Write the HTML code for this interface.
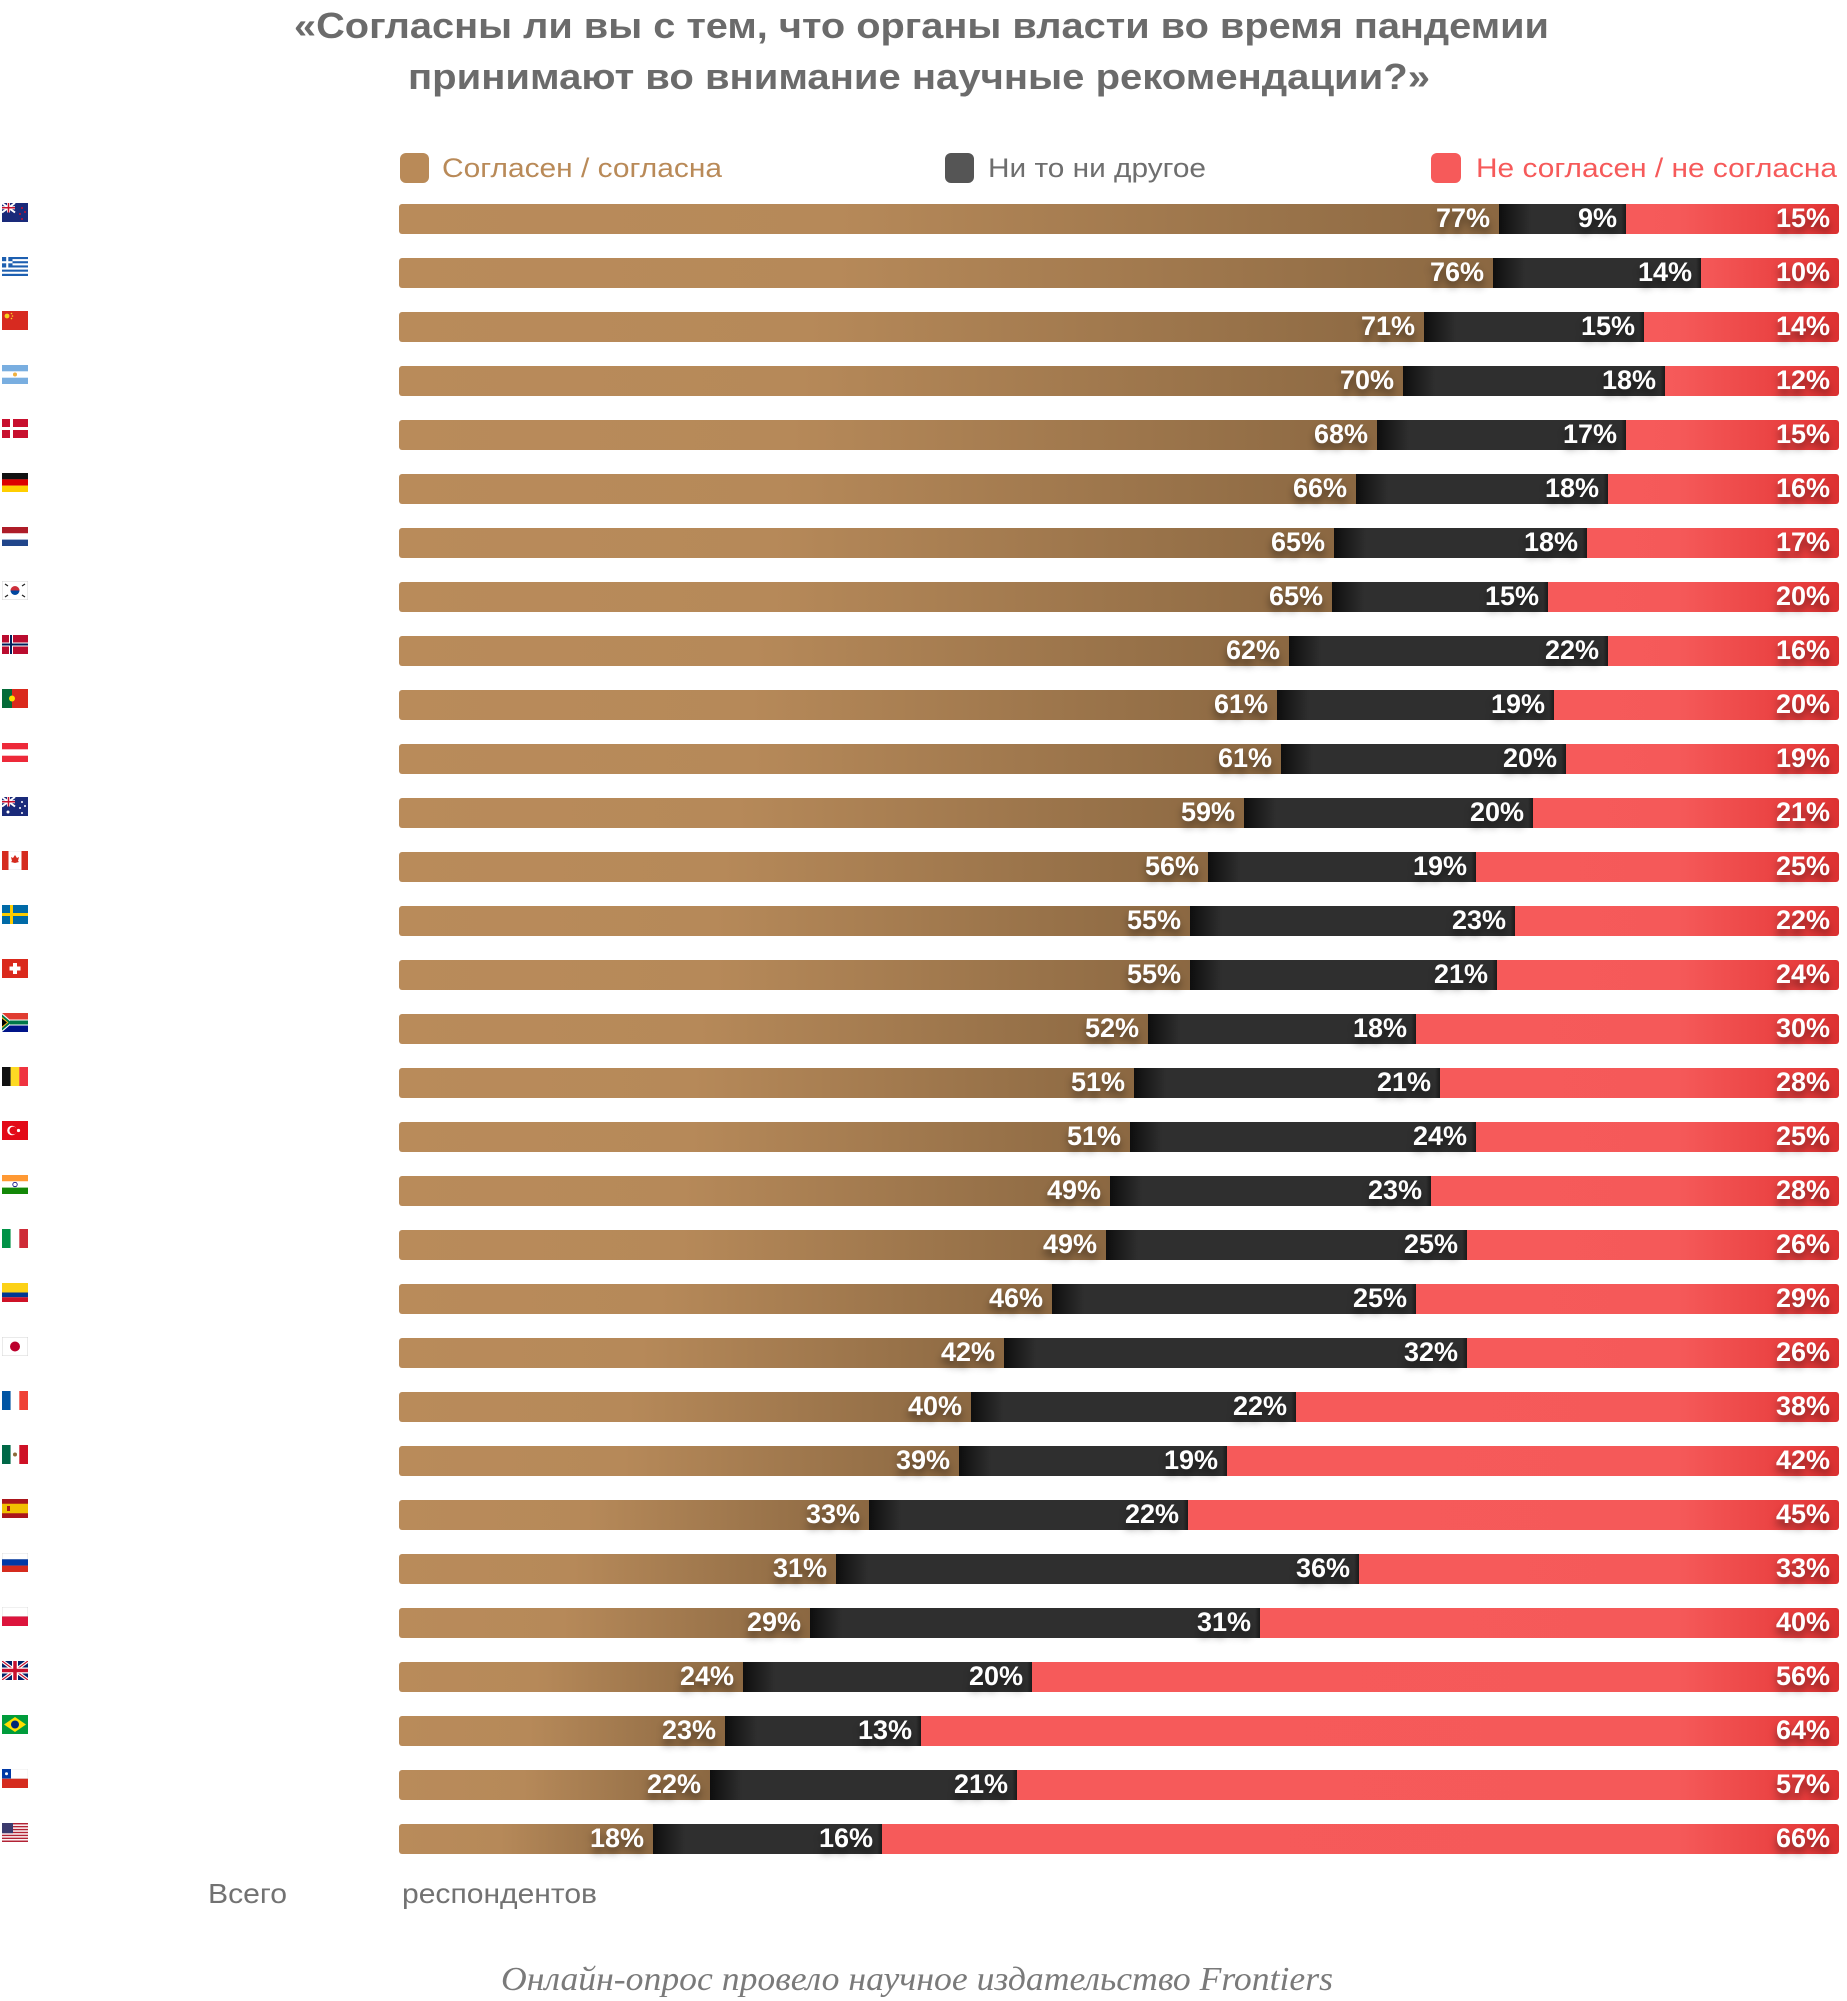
<!DOCTYPE html>
<html><head><meta charset="utf-8">
<style>
html,body{margin:0;padding:0;background:#fff;}
body{width:1847px;height:2001px;position:relative;overflow:hidden;font-family:"Liberation Sans",sans-serif;}
.row{position:absolute;left:399px;width:1440px;height:30px;display:flex;}
.row div{box-sizing:border-box;height:30px;padding-right:9px;text-align:right;color:#fff;font:bold 27px/29px "Liberation Sans",sans-serif;text-shadow:0 6px 8px rgba(0,0,0,.45);white-space:nowrap;flex:none;}
.row .b{background:linear-gradient(90deg,#b98b5a 0%,#b68959 40%,#8b6842 100%);border-radius:3px 0 0 3px;}
.row .d{background:linear-gradient(90deg,#0e0e0e 0,#2f2f2f 32px,#2f2f2f calc(100% - 5px),#1a1a1a 100%);}
.row .e{flex:1 1 auto;background:linear-gradient(90deg,#f65a5a 0,#f55959 calc(100% - 160px),#e63a3a calc(100% - 25px),#dc3131 100%);border-radius:0 3px 3px 0;}
.f{position:absolute;left:2px;width:26px;height:19px;}
svg.txt{position:absolute;left:0;top:0;}
</style></head><body>

<svg class="txt" width="1847" height="2001" viewBox="0 0 1847 2001">
<text x="294" y="38" font-family="Liberation Sans, sans-serif" font-weight="bold" font-size="36" fill="#6b6b6b" textLength="1255" lengthAdjust="spacingAndGlyphs">«Согласны ли вы с тем, что органы власти во время пандемии</text>
<text x="408" y="89" font-family="Liberation Sans, sans-serif" font-weight="bold" font-size="36" fill="#6b6b6b" textLength="1022" lengthAdjust="spacingAndGlyphs">принимают во внимание научные рекомендации?»</text>
<rect x="400" y="153" width="29" height="30" rx="6" fill="#b98a58"/>
<text x="442" y="177" font-family="Liberation Sans, sans-serif" font-size="27" fill="#b98a58" textLength="280" lengthAdjust="spacingAndGlyphs">Согласен / согласна</text>
<rect x="945" y="153" width="29" height="30" rx="6" fill="#555555"/>
<text x="988" y="177" font-family="Liberation Sans, sans-serif" font-size="27" fill="#6e6e6e" textLength="218" lengthAdjust="spacingAndGlyphs">Ни то ни другое</text>
<rect x="1431" y="153" width="30" height="30" rx="6" fill="#f65a5a"/>
<text x="1476" y="177" font-family="Liberation Sans, sans-serif" font-size="27" fill="#f65a5a" textLength="361" lengthAdjust="spacingAndGlyphs">Не согласен / не согласна</text>
<text x="208" y="1903" font-family="Liberation Sans, sans-serif" font-size="28" fill="#727272" textLength="79" lengthAdjust="spacingAndGlyphs">Всего</text>
<text x="402" y="1903" font-family="Liberation Sans, sans-serif" font-size="28" fill="#727272" textLength="195" lengthAdjust="spacingAndGlyphs">респондентов</text>
<text x="501" y="1990" font-family="Liberation Serif, serif" font-style="italic" font-size="34" fill="#7a7a7a" textLength="832" lengthAdjust="spacingAndGlyphs">Онлайн-опрос провело научное издательство Frontiers</text>
</svg>

<!-- Flags -->
<svg class="f" style="top:203px" viewBox="0 0 26 19"><rect width="26" height="19" fill="#1a2a7a"/><path d="M0 0L13 9.5M13 0L0 9.5" stroke="#fff" stroke-width="2"/><path d="M6.5 0v9.5M0 4.75h13" stroke="#fff" stroke-width="3"/><path d="M6.5 0v9.5M0 4.75h13" stroke="#c8102e" stroke-width="1.5"/><circle cx="20" cy="5" r="1" fill="#c8102e"/><circle cx="23" cy="9" r="1" fill="#c8102e"/><circle cx="18" cy="11" r="1" fill="#c8102e"/><circle cx="20" cy="16" r="1" fill="#c8102e"/></svg>
<svg class="f" style="top:257px" viewBox="0 0 26 19"><rect width="26" height="19" fill="#1d5fb0"/><rect y="2.1" width="26" height="2.1" fill="#fff"/><rect y="6.3" width="26" height="2.1" fill="#fff"/><rect y="10.5" width="26" height="2.1" fill="#fff"/><rect y="14.7" width="26" height="2.1" fill="#fff"/><rect width="10.5" height="10.5" fill="#1d5fb0"/><rect x="4.2" width="2.1" height="10.5" fill="#fff"/><rect y="4.2" width="10.5" height="2.1" fill="#fff"/></svg>
<svg class="f" style="top:311px" viewBox="0 0 26 19"><rect width="26" height="19" fill="#d72a20"/><circle cx="5" cy="5" r="2.4" fill="#f7d21e"/><circle cx="9.5" cy="2.5" r=".8" fill="#f7d21e"/><circle cx="10.5" cy="5" r=".8" fill="#f7d21e"/><circle cx="9.5" cy="7.5" r=".8" fill="#f7d21e"/></svg>
<svg class="f" style="top:365px" viewBox="0 0 26 19"><rect width="26" height="19" fill="#79aee0"/><rect y="6.3" width="26" height="6.4" fill="#fff"/><circle cx="13" cy="9.5" r="2" fill="#f0b040"/></svg>
<svg class="f" style="top:419px" viewBox="0 0 26 19"><rect width="26" height="19" fill="#c8102e"/><rect x="8" width="3" height="19" fill="#fff"/><rect y="8" width="26" height="3" fill="#fff"/></svg>
<svg class="f" style="top:473px" viewBox="0 0 26 19"><rect width="26" height="6.4" fill="#111"/><rect y="6.3" width="26" height="6.4" fill="#dd0000"/><rect y="12.6" width="26" height="6.4" fill="#ffce00"/></svg>
<svg class="f" style="top:527px" viewBox="0 0 26 19"><rect width="26" height="6.4" fill="#ae1c28"/><rect y="6.3" width="26" height="6.4" fill="#fff"/><rect y="12.6" width="26" height="6.4" fill="#21468b"/></svg>
<svg class="f" style="top:581px" viewBox="0 0 26 19"><rect width="26" height="19" fill="#fff" stroke="#ccc" stroke-width=".8"/><path d="M8.5 9.5a4.5 4.5 0 0 1 9 0z" fill="#cd2e3a"/><path d="M8.5 9.5a4.5 4.5 0 0 0 9 0z" fill="#0047a0"/><path d="M3 3l3 2M20 5l3-2M3 16l3-2M20 14l3 2" stroke="#222" stroke-width="1.2"/></svg>
<svg class="f" style="top:635px" viewBox="0 0 26 19"><rect width="26" height="19" fill="#ba0c2f"/><rect x="7" width="4" height="19" fill="#fff"/><rect y="7.5" width="26" height="4" fill="#fff"/><rect x="8" width="2" height="19" fill="#00205b"/><rect y="8.5" width="26" height="2" fill="#00205b"/></svg>
<svg class="f" style="top:689px" viewBox="0 0 26 19"><rect width="26" height="19" fill="#da291c"/><rect width="10" height="19" fill="#046a38"/><circle cx="10" cy="9.5" r="3" fill="#ffe000"/></svg>
<svg class="f" style="top:743px" viewBox="0 0 26 19"><rect width="26" height="19" fill="#ed2939"/><rect y="6.3" width="26" height="6.4" fill="#fff"/></svg>
<svg class="f" style="top:797px" viewBox="0 0 26 19"><rect width="26" height="19" fill="#1a2a7a"/><path d="M0 0L13 9.5M13 0L0 9.5" stroke="#fff" stroke-width="2"/><path d="M6.5 0v9.5M0 4.75h13" stroke="#fff" stroke-width="3"/><path d="M6.5 0v9.5M0 4.75h13" stroke="#c8102e" stroke-width="1.5"/><circle cx="20" cy="5" r="1" fill="#fff"/><circle cx="23" cy="9" r="1" fill="#fff"/><circle cx="18" cy="11" r="1" fill="#fff"/><circle cx="20" cy="16" r="1" fill="#fff"/><circle cx="6" cy="15" r="1.5" fill="#fff"/></svg>
<svg class="f" style="top:851px" viewBox="0 0 26 19"><rect width="26" height="19" fill="#fff" stroke="#ddd" stroke-width=".6"/><rect width="6.5" height="19" fill="#d52b1e"/><rect x="19.5" width="6.5" height="19" fill="#d52b1e"/><path d="M13 4l2 3 2-1-1 4 1 1-4 1-4-1 1-1-1-4 2 1z" fill="#d52b1e"/></svg>
<svg class="f" style="top:905px" viewBox="0 0 26 19"><rect width="26" height="19" fill="#006aa7"/><rect x="8" width="3" height="19" fill="#fecc00"/><rect y="8" width="26" height="3" fill="#fecc00"/></svg>
<svg class="f" style="top:959px" viewBox="0 0 26 19"><rect width="26" height="19" fill="#da291c"/><rect x="11" y="4" width="4" height="11" fill="#fff"/><rect x="7.5" y="7.5" width="11" height="4" fill="#fff"/></svg>
<svg class="f" style="top:1013px" viewBox="0 0 26 19"><rect width="26" height="9.5" fill="#e03c31"/><rect y="9.5" width="26" height="9.5" fill="#001489"/><path d="M0 0L11 9.5L0 19" fill="#fff"/><rect y="6.5" width="26" height="6" fill="#fff"/><path d="M0 1.5L9.5 9.5L0 17.5" fill="#007749"/><rect x="8" y="7.5" width="18" height="4" fill="#007749"/><path d="M0 4L6.5 9.5L0 15z" fill="#ffb81c"/><path d="M0 5.5L5 9.5L0 13.5z" fill="#000"/></svg>
<svg class="f" style="top:1067px" viewBox="0 0 26 19"><rect width="8.7" height="19" fill="#111"/><rect x="8.7" width="8.7" height="19" fill="#fdda24"/><rect x="17.3" width="8.7" height="19" fill="#ef3340"/></svg>
<svg class="f" style="top:1121px" viewBox="0 0 26 19"><rect width="26" height="19" fill="#e30a17"/><circle cx="10" cy="9.5" r="4.8" fill="#fff"/><circle cx="11.3" cy="9.5" r="3.9" fill="#e30a17"/><circle cx="16.5" cy="9.5" r="1.6" fill="#fff"/></svg>
<svg class="f" style="top:1175px" viewBox="0 0 26 19"><rect width="26" height="6.4" fill="#ff9933"/><rect y="6.3" width="26" height="6.4" fill="#fff"/><rect y="12.6" width="26" height="6.4" fill="#138808"/><circle cx="13" cy="9.5" r="2.2" fill="none" stroke="#000080" stroke-width=".8"/></svg>
<svg class="f" style="top:1229px" viewBox="0 0 26 19"><rect width="8.7" height="19" fill="#009246"/><rect x="8.7" width="8.7" height="19" fill="#fff"/><rect x="17.3" width="8.7" height="19" fill="#ce2b37"/></svg>
<svg class="f" style="top:1283px" viewBox="0 0 26 19"><rect width="26" height="9.5" fill="#fcd116"/><rect y="9.5" width="26" height="4.75" fill="#003893"/><rect y="14.25" width="26" height="4.75" fill="#ce1126"/></svg>
<svg class="f" style="top:1337px" viewBox="0 0 26 19"><rect width="26" height="19" fill="#fff" stroke="#ccc" stroke-width=".8"/><circle cx="13" cy="9.5" r="5" fill="#bc002d"/></svg>
<svg class="f" style="top:1391px" viewBox="0 0 26 19"><rect width="8.7" height="19" fill="#0055a4"/><rect x="8.7" width="8.7" height="19" fill="#fff"/><rect x="17.3" width="8.7" height="19" fill="#ef4135"/></svg>
<svg class="f" style="top:1445px" viewBox="0 0 26 19"><rect width="8.7" height="19" fill="#006847"/><rect x="8.7" width="8.7" height="19" fill="#fff"/><rect x="17.3" width="8.7" height="19" fill="#ce1126"/><circle cx="13" cy="9.5" r="2" fill="#8c6a3a"/></svg>
<svg class="f" style="top:1499px" viewBox="0 0 26 19"><rect width="26" height="19" fill="#aa151b"/><rect y="4.75" width="26" height="9.5" fill="#f1bf00"/><rect x="5" y="7" width="3" height="5" fill="#aa151b"/></svg>
<svg class="f" style="top:1553px" viewBox="0 0 26 19"><rect width="26" height="6.4" fill="#fff" stroke="#ccc" stroke-width=".6"/><rect y="6.3" width="26" height="6.4" fill="#0039a6"/><rect y="12.6" width="26" height="6.4" fill="#d52b1e"/></svg>
<svg class="f" style="top:1607px" viewBox="0 0 26 19"><rect width="26" height="9.5" fill="#fff" stroke="#ccc" stroke-width=".6"/><rect y="9.5" width="26" height="9.5" fill="#dc143c"/></svg>
<svg class="f" style="top:1661px" viewBox="0 0 26 19"><rect width="26" height="19" fill="#012169"/><path d="M0 0L26 19M26 0L0 19" stroke="#fff" stroke-width="3.5"/><path d="M0 0L26 19M26 0L0 19" stroke="#c8102e" stroke-width="1.2"/><path d="M13 0v19M0 9.5h26" stroke="#fff" stroke-width="6"/><path d="M13 0v19M0 9.5h26" stroke="#c8102e" stroke-width="3.5"/></svg>
<svg class="f" style="top:1715px" viewBox="0 0 26 19"><rect width="26" height="19" fill="#009c3b"/><path d="M13 2L24 9.5L13 17L2 9.5z" fill="#ffdf00"/><circle cx="13" cy="9.5" r="4" fill="#002776"/></svg>
<svg class="f" style="top:1769px" viewBox="0 0 26 19"><rect width="26" height="19" fill="#d52b1e"/><rect width="26" height="9.5" fill="#fff" stroke="#ddd" stroke-width=".5"/><rect width="9" height="9.5" fill="#0039a6"/><circle cx="4.5" cy="4.75" r="1.5" fill="#fff"/></svg>
<svg class="f" style="top:1823px" viewBox="0 0 26 19"><rect width="26" height="19" fill="#fff"/><rect y="0" width="26" height="1.46" fill="#b22234"/><rect y="2.92" width="26" height="1.46" fill="#b22234"/><rect y="5.85" width="26" height="1.46" fill="#b22234"/><rect y="8.77" width="26" height="1.46" fill="#b22234"/><rect y="11.7" width="26" height="1.46" fill="#b22234"/><rect y="14.6" width="26" height="1.46" fill="#b22234"/><rect y="17.5" width="26" height="1.5" fill="#b22234"/><rect width="11" height="10.2" fill="#3c3b6e"/></svg>

<!-- Bars -->
<div class="row" style="top:204px"><div class="b" style="width:1100px">77%</div><div class="d" style="width:127px">9%</div><div class="e">15%</div></div>
<div class="row" style="top:258px"><div class="b" style="width:1094px">76%</div><div class="d" style="width:208px">14%</div><div class="e">10%</div></div>
<div class="row" style="top:312px"><div class="b" style="width:1025px">71%</div><div class="d" style="width:220px">15%</div><div class="e">14%</div></div>
<div class="row" style="top:366px"><div class="b" style="width:1004px">70%</div><div class="d" style="width:262px">18%</div><div class="e">12%</div></div>
<div class="row" style="top:420px"><div class="b" style="width:978px">68%</div><div class="d" style="width:249px">17%</div><div class="e">15%</div></div>
<div class="row" style="top:474px"><div class="b" style="width:957px">66%</div><div class="d" style="width:252px">18%</div><div class="e">16%</div></div>
<div class="row" style="top:528px"><div class="b" style="width:935px">65%</div><div class="d" style="width:253px">18%</div><div class="e">17%</div></div>
<div class="row" style="top:582px"><div class="b" style="width:933px">65%</div><div class="d" style="width:216px">15%</div><div class="e">20%</div></div>
<div class="row" style="top:636px"><div class="b" style="width:890px">62%</div><div class="d" style="width:319px">22%</div><div class="e">16%</div></div>
<div class="row" style="top:690px"><div class="b" style="width:878px">61%</div><div class="d" style="width:277px">19%</div><div class="e">20%</div></div>
<div class="row" style="top:744px"><div class="b" style="width:882px">61%</div><div class="d" style="width:285px">20%</div><div class="e">19%</div></div>
<div class="row" style="top:798px"><div class="b" style="width:845px">59%</div><div class="d" style="width:289px">20%</div><div class="e">21%</div></div>
<div class="row" style="top:852px"><div class="b" style="width:809px">56%</div><div class="d" style="width:268px">19%</div><div class="e">25%</div></div>
<div class="row" style="top:906px"><div class="b" style="width:791px">55%</div><div class="d" style="width:325px">23%</div><div class="e">22%</div></div>
<div class="row" style="top:960px"><div class="b" style="width:791px">55%</div><div class="d" style="width:307px">21%</div><div class="e">24%</div></div>
<div class="row" style="top:1014px"><div class="b" style="width:749px">52%</div><div class="d" style="width:268px">18%</div><div class="e">30%</div></div>
<div class="row" style="top:1068px"><div class="b" style="width:735px">51%</div><div class="d" style="width:306px">21%</div><div class="e">28%</div></div>
<div class="row" style="top:1122px"><div class="b" style="width:731px">51%</div><div class="d" style="width:346px">24%</div><div class="e">25%</div></div>
<div class="row" style="top:1176px"><div class="b" style="width:711px">49%</div><div class="d" style="width:321px">23%</div><div class="e">28%</div></div>
<div class="row" style="top:1230px"><div class="b" style="width:707px">49%</div><div class="d" style="width:361px">25%</div><div class="e">26%</div></div>
<div class="row" style="top:1284px"><div class="b" style="width:653px">46%</div><div class="d" style="width:364px">25%</div><div class="e">29%</div></div>
<div class="row" style="top:1338px"><div class="b" style="width:605px">42%</div><div class="d" style="width:463px">32%</div><div class="e">26%</div></div>
<div class="row" style="top:1392px"><div class="b" style="width:572px">40%</div><div class="d" style="width:325px">22%</div><div class="e">38%</div></div>
<div class="row" style="top:1446px"><div class="b" style="width:560px">39%</div><div class="d" style="width:268px">19%</div><div class="e">42%</div></div>
<div class="row" style="top:1500px"><div class="b" style="width:470px">33%</div><div class="d" style="width:319px">22%</div><div class="e">45%</div></div>
<div class="row" style="top:1554px"><div class="b" style="width:437px">31%</div><div class="d" style="width:523px">36%</div><div class="e">33%</div></div>
<div class="row" style="top:1608px"><div class="b" style="width:411px">29%</div><div class="d" style="width:450px">31%</div><div class="e">40%</div></div>
<div class="row" style="top:1662px"><div class="b" style="width:344px">24%</div><div class="d" style="width:289px">20%</div><div class="e">56%</div></div>
<div class="row" style="top:1716px"><div class="b" style="width:326px">23%</div><div class="d" style="width:196px">13%</div><div class="e">64%</div></div>
<div class="row" style="top:1770px"><div class="b" style="width:311px">22%</div><div class="d" style="width:307px">21%</div><div class="e">57%</div></div>
<div class="row" style="top:1824px"><div class="b" style="width:254px">18%</div><div class="d" style="width:229px">16%</div><div class="e">66%</div></div>

</body></html>
